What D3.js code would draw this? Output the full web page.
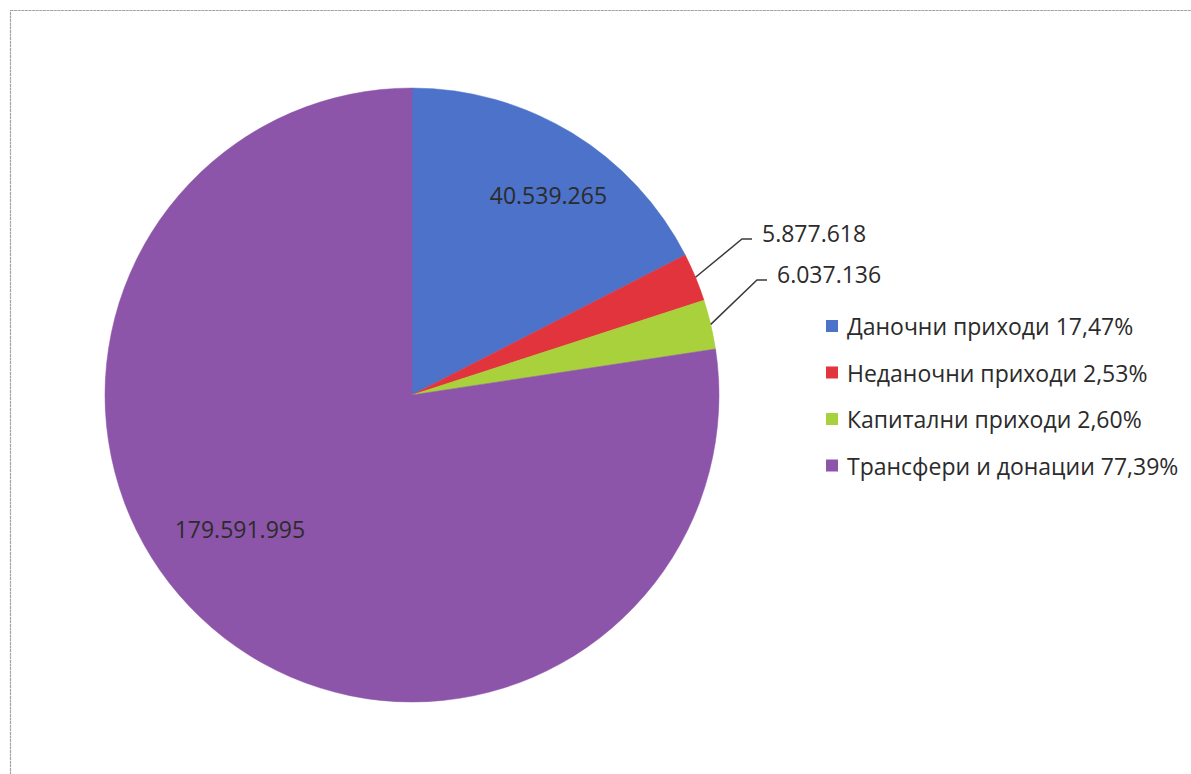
<!DOCTYPE html>
<html>
<head>
<meta charset="utf-8">
<script src="https://cdn.jsdelivr.net/npm/d3@7"></script>
<style>
  html, body { margin: 0; padding: 0; background: #fff; }
  svg { display: block; }
  text { font-family: "Open Sans", "Noto Sans", sans-serif; }
</style>
</head>
<body>
<svg id="chart" width="1191" height="774"></svg>
<script>
// ---- data ----
const categories = ["Даночни приходи", "Неданочни приходи", "Капитални приходи", "Трансфери и донации"];
const values = [40539265, 5877618, 6037136, 179591995];
const valueLabels = ["40.539.265", "5.877.618", "6.037.136", "179.591.995"];
const percentLabels = ["17,47%", "2,53%", "2,60%", "77,39%"];
const colors = ["#4c72c9", "#e2343c", "#a9d13b", "#8d55a9"];

// ---- layout ----
const W = 1191, H = 774;
const cx = 412, cy = 395, R = 307;
const FS = 23;
// label placement: inside labels by [angle offset (rad), radius]; outside labels by text start point
const insideLabel = { 0: { dA: 0.05, r: 242 }, 3: { dA: 0.2, r: 218 } };
const outsideLabel = { 1: { x: 762, y: 233 }, 2: { x: 777, y: 274 } };

const svg = d3.select("#chart");

// frame
svg.append("rect")
  .attr("x", 10.5).attr("y", 10.5)
  .attr("width", 1300).attr("height", 900)
  .attr("fill", "none").attr("stroke", "#a3a3a3").attr("stroke-width", 1.2)
  .attr("stroke-dasharray", "3,0.6");

const pie = d3.pie().sort(null).value(d => d)(values);
const arc = d3.arc().innerRadius(0).outerRadius(R);

const g = svg.append("g").attr("transform", `translate(${cx},${cy})`);

g.selectAll("path.slice")
  .data(pie)
  .join("path")
  .attr("class", "slice")
  .attr("d", arc)
  .attr("fill", (d, i) => colors[i])
  .attr("stroke", (d, i) => colors[i])
  .attr("stroke-width", 0.5);

// inside labels
pie.forEach((d, i) => {
  if (!insideLabel[i]) return;
  const a = (d.startAngle + d.endAngle) / 2 + insideLabel[i].dA;
  const r = insideLabel[i].r;
  g.append("text")
    .attr("x", r * Math.sin(a))
    .attr("y", -r * Math.cos(a))
    .attr("text-anchor", "middle")
    .attr("dominant-baseline", "central")
    .attr("font-size", FS)
    .attr("fill", "#2b2b2b")
    .text(valueLabels[i]);
});

// outside labels with leader lines
pie.forEach((d, i) => {
  if (!outsideLabel[i]) return;
  const a = (d.startAngle + d.endAngle) / 2;
  const sx = R * Math.sin(a), sy = -R * Math.cos(a);
  const lx = outsideLabel[i].x - cx, ly = outsideLabel[i].y - cy;
  const ey = ly + 6;
  g.append("polyline")
    .attr("points", [[sx, sy], [lx - 20, ey], [lx - 10, ey]].map(p => p.join(",")).join(" "))
    .attr("fill", "none")
    .attr("stroke", "#3a3a3a")
    .attr("stroke-width", 1.5);
  g.append("text")
    .attr("x", lx)
    .attr("y", ly)
    .attr("dominant-baseline", "central")
    .attr("font-size", FS)
    .attr("fill", "#2b2b2b")
    .text(valueLabels[i]);
});

// legend
const legend = svg.append("g").attr("transform", "translate(826,326)");
const item = legend.selectAll("g")
  .data(categories)
  .join("g")
  .attr("transform", (d, i) => `translate(0,${i * 46.5})`);
item.append("rect")
  .attr("x", 0).attr("y", -6)
  .attr("width", 12).attr("height", 12)
  .attr("fill", (d, i) => colors[i]);
item.append("text")
  .attr("x", 21).attr("y", 0)
  .attr("dominant-baseline", "central")
  .attr("font-size", FS)
  .attr("fill", "#2b2b2b")
  .text((d, i) => `${d} ${percentLabels[i]}`);
</script>
</body>
</html>
